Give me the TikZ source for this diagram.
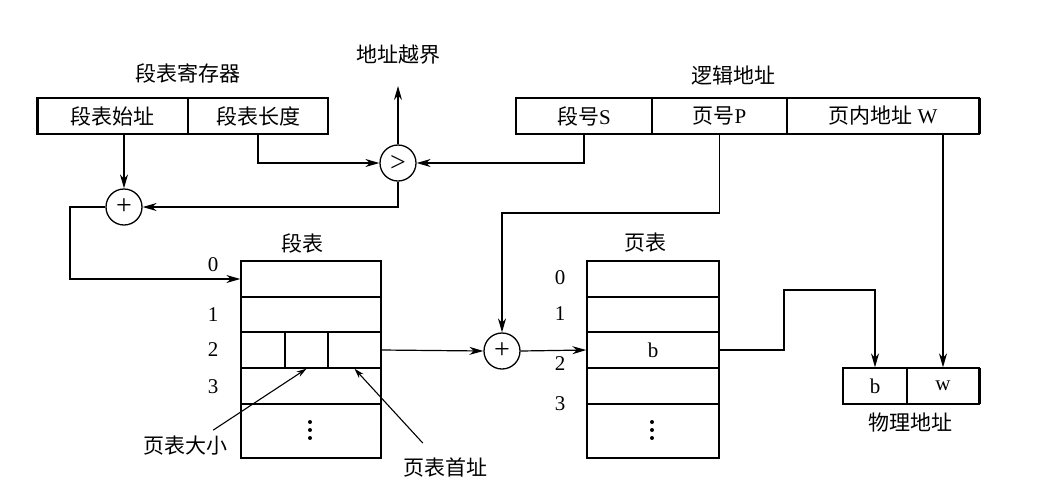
\documentclass[tikz,border=0pt]{standalone}
\usepackage{fontspec}
\setmainfont{Liberation Serif}
\newfontfamily\cjk{Noto Sans CJK SC}
\usetikzlibrary{arrows.meta,calc}
\begin{document}
\begin{tikzpicture}[x=1pt,y=-1pt,
  font=\fontsize{21}{24}\selectfont,
  cell/.style={draw,line width=1.4pt,inner sep=0pt,minimum height=36pt},
  op/.style={draw,circle,line width=1.3pt,minimum size=36pt,inner sep=0pt,font=\fontsize{28}{28}\selectfont},
  lbl/.style={inner sep=0pt},
  dot/.style={fill,circle,inner sep=0pt,minimum size=4pt},
  conn/.style={line width=1.2pt},
  arr/.style={conn,-{Stealth[length=14pt,width=8pt]}},
  thin arr/.style={line width=1.1pt,-{Stealth[length=10pt,width=6pt]}}]
\useasboundingbox (0,0) rectangle (1051,499);

% segment table register
\node[lbl] (regt) at (188,73) {\cjk 段表寄存器};
\node[cell,minimum width=151pt] (sa) at (112.5,116) {\cjk 段表始址};
\node[cell,minimum width=140pt] (sl) at (258,116) {\cjk 段表长度};
\draw[line width=3pt] (37,98) -- (37,134);

% logical address
\node[lbl] (lat) at (733,76) {\cjk 逻辑地址};
\node[cell,minimum width=136pt] (ls) at (584,116) {{\cjk 段号}S};
\node[cell,minimum width=135pt] (lp) at (719.5,116) {{\cjk 页号}P};
\node[cell,minimum width=192pt] (lw) at (883,116) {{\cjk 页内地址} W};
\draw[line width=3pt] (979,98) -- (979,134);

% operators
\node[op] (cmp) at (398,163) {>};
\node[op] (add1) at (124,207) {+};
\node[op] (add2) at (502,351) {+};
\node[lbl] (oob) at (398,55) {\cjk 地址越界};
\coordinate (oobtip) at (398,86);

% segment table
\node[lbl] (stt) at (302,243) {\cjk 段表};
\node[cell,minimum width=140pt,minimum height=36pt] (st0) at (311,279) {};
\node[cell,minimum width=140pt,minimum height=35pt] (st1) at (311,314.5) {};
\node[cell,minimum width=44pt,minimum height=36pt] (st2a) at (263,350) {};
\node[cell,minimum width=43pt,minimum height=36pt] (st2b) at (306.5,350) {};
\node[cell,minimum width=53pt,minimum height=36pt] (st2c) at (354.5,350) {};
\node[cell,minimum width=140pt,minimum height=36pt] (st3) at (311,386) {};
\node[cell,minimum width=140pt,minimum height=54pt] (st4) at (311,431) {};
\node[dot] (sd1) at (310,422) {};
\node[dot] (sd2) at (310,430) {};
\node[dot] (sd3) at (310,438) {};
\node[lbl] at (213,265) {0};
\node[lbl] at (213,315) {1};
\node[lbl] at (213,350) {2};
\node[lbl] at (213,387) {3};

% page table
\node[lbl] (ptt) at (645,243) {\cjk 页表};
\node[cell,minimum width=132pt,minimum height=36pt] (pt0) at (653,279) {};
\node[cell,minimum width=132pt,minimum height=35pt] (pt1) at (653,314.5) {};
\node[cell,minimum width=132pt,minimum height=36pt] (pt2) at (653,350) {b};
\node[cell,minimum width=132pt,minimum height=36pt] (pt3) at (653,386) {};
\node[cell,minimum width=132pt,minimum height=54pt] (pt4) at (653,431) {};
\node[dot] (pd1) at (652,422) {};
\node[dot] (pd2) at (652,430) {};
\node[dot] (pd3) at (652,438) {};
\node[lbl] at (560,278) {0};
\node[lbl] at (560,314) {1};
\node[lbl] at (560,364) {2};
\node[lbl] at (560,404) {3};

% physical address
\node[cell,minimum width=64pt] (pb) at (875,386) {b};
\node[cell,minimum width=72pt] (pw) at (943,386) {w};
\draw[line width=3pt] (979,368) -- (979,404);
\node[lbl] (pat) at (910,423) {\cjk 物理地址};

% annotations
\node[lbl] (sz) at (185,446) {\cjk 页表大小};
\node[lbl] (fa) at (445,467) {\cjk 页表首址};

% connectors
\draw[arr] (cmp.north) -- (oobtip);
\draw[arr] (sl.south) |- (cmp.west);
\draw[arr] (ls.south) |- (cmp.east);
\draw[arr] (add1 |- sa.south) -- (add1.north);
\draw[arr] (cmp.south) |- (add1.east);
\coordinate (c1) at (70,207);
\draw[arr] (add1.west) -- (c1) |- (st0.west);
\draw[arr] (st2c.east) -- (add2.west);
\coordinate (c2) at (719.5,213);
\draw[arr] (lp.south) -- (c2) -| (add2.north);
\draw[arr] (add2.east) -- (pt2.west);
\coordinate (c3) at (784,290);
\draw[arr] (pt2.east) -| (c3) -| (pb.north);
\draw[arr] (pw.north |- lw.south) -- (pw.north);
\draw[thin arr] ([xshift=-14pt,yshift=6pt]sz.north east) -- (st2b.south);
\draw[thin arr] ([xshift=20pt,yshift=14pt]fa.north west) -- (st2c.south);
\end{tikzpicture}
\end{document}
